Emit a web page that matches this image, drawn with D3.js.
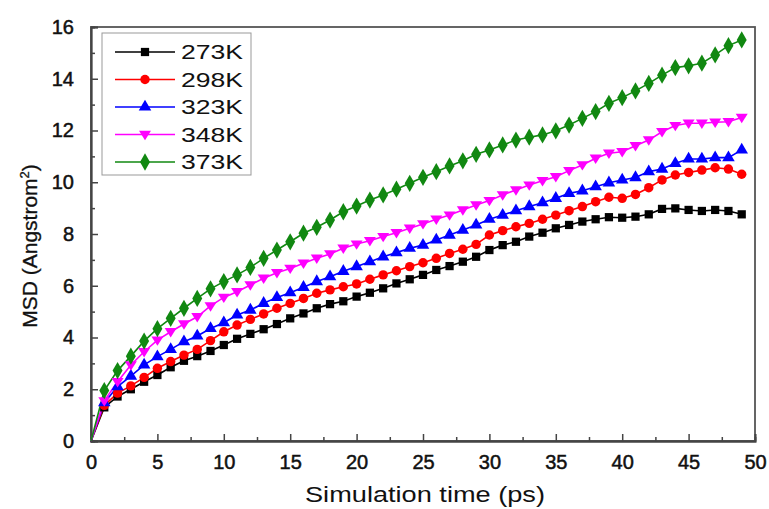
<!DOCTYPE html>
<html><head><meta charset="utf-8">
<script src="https://cdn.jsdelivr.net/npm/d3@7"></script>
<style>body{margin:0;background:#fff}svg{display:block}text{font-family:"Liberation Sans",Arial,sans-serif}</style>
</head><body><svg id="c" width="769" height="509"></svg>
<script>
const times = d3.range(0, 50);
const seriesNames = ["273K","298K","323K","348K","373K"];
const seriesColors = ["#000000","#ff0000","#0000ff","#ff00ff","#118811"];
const seriesSymbols = ["square","circle","triangle","triangleDown","diamond"];
const xTicks = [0,5,10,15,20,25,30,35,40,45,50];
const yTicks = [0,2,4,6,8,10,12,14,16];

const msd273 = [0,1.30,1.72,2.00,2.29,2.55,2.85,3.10,3.28,3.48,3.71,3.95,4.14,4.32,4.52,4.74,4.93,5.13,5.29,5.40,5.58,5.73,5.90,6.09,6.25,6.42,6.61,6.76,6.93,7.12,7.38,7.57,7.70,7.90,8.05,8.22,8.35,8.48,8.57,8.65,8.63,8.67,8.76,8.97,8.99,8.93,8.89,8.93,8.89,8.76];
const msd298 = [0,1.38,1.85,2.13,2.46,2.81,3.07,3.32,3.54,3.88,4.22,4.48,4.70,4.91,5.13,5.32,5.51,5.71,5.84,5.96,6.07,6.25,6.42,6.58,6.74,6.89,7.06,7.25,7.41,7.60,7.96,8.13,8.28,8.41,8.57,8.73,8.90,9.06,9.25,9.42,9.38,9.53,9.79,10.09,10.28,10.38,10.47,10.56,10.51,10.31];
const msd323 = [0,1.48,2.10,2.51,2.94,3.26,3.54,3.84,4.06,4.35,4.57,4.87,5.06,5.32,5.55,5.73,5.94,6.16,6.35,6.56,6.74,6.93,7.12,7.28,7.45,7.57,7.77,7.96,8.15,8.35,8.57,8.73,8.90,9.06,9.21,9.38,9.57,9.67,9.83,9.98,10.09,10.18,10.41,10.51,10.73,10.90,10.90,10.95,10.95,11.25];
const msd348 = [0,1.55,2.29,2.94,3.45,3.90,4.22,4.52,4.80,5.22,5.55,5.77,6.03,6.29,6.50,6.67,6.87,7.06,7.23,7.45,7.61,7.74,7.90,8.05,8.22,8.39,8.57,8.73,8.93,9.12,9.29,9.51,9.70,9.89,10.06,10.21,10.45,10.67,10.93,11.12,11.18,11.41,11.63,11.95,12.19,12.28,12.28,12.32,12.34,12.50];
const msd373 = [0,1.95,2.72,3.28,3.86,4.34,4.74,5.13,5.51,5.88,6.16,6.42,6.71,7.06,7.38,7.70,8.03,8.26,8.54,8.86,9.08,9.31,9.51,9.73,9.96,10.19,10.41,10.63,10.83,11.08,11.25,11.44,11.63,11.74,11.83,11.99,12.21,12.47,12.73,13.05,13.27,13.53,13.82,14.14,14.43,14.50,14.60,14.92,15.28,15.50];
const allSeries = [msd273, msd298, msd323, msd348, msd373];

const svg = d3.select("#c");
const L = 91, R = 755, T = 27, B = 441;
const x = d3.scaleLinear().domain([0,50]).range([L,R]);
const y = d3.scaleLinear().domain([0,16]).range([B,T]);

// frame
svg.append("rect").attr("x",L).attr("y",T).attr("width",R-L).attr("height",B-T)
  .attr("fill","none").attr("stroke","#555").attr("stroke-width",1.8);

// axes
const xAxis = svg.append("g").attr("transform",`translate(0,${B})`)
  .call(d3.axisBottom(x).tickValues(xTicks).tickSize(-7).tickPadding(14).tickFormat(d3.format("d")));
const xMinor = svg.append("g").attr("transform",`translate(0,${B})`)
  .call(d3.axisBottom(x).tickValues(d3.range(2.5,50,5)).tickSize(-4).tickFormat(""));
const yAxis = svg.append("g").attr("transform",`translate(${L},0)`)
  .call(d3.axisLeft(y).tickValues(yTicks).tickSize(-7).tickPadding(17).tickFormat(d3.format("d")));
const yMinor = svg.append("g").attr("transform",`translate(${L},0)`)
  .call(d3.axisLeft(y).tickValues(d3.range(1,16,2)).tickSize(-4).tickFormat(""));
[xAxis,xMinor,yAxis,yMinor].forEach(g=>{
  g.select(".domain").attr("stroke","#444").attr("stroke-width",1.8);
  g.selectAll(".tick line").attr("stroke","#444").attr("stroke-width",1.5);
  g.selectAll("text").attr("font-size",20).attr("fill","#111")
    .attr("stroke","#111").attr("stroke-width",0.5);
});

// titles
svg.append("text").attr("x",(L+R)/2+2).attr("y",502).attr("text-anchor","middle")
  .attr("font-size",22).attr("fill","#111")
  .attr("textLength",240).attr("lengthAdjust","spacingAndGlyphs")
  .text("Simulation time (ps)");
const yt = svg.append("text").attr("transform",`translate(37,246) rotate(-90)`)
  .attr("text-anchor","middle").attr("font-size",21).attr("fill","#111")
  .attr("stroke","#111").attr("stroke-width",0.3);
yt.append("tspan").text("MSD (Angstrom");
yt.append("tspan").attr("font-size",13).attr("dy",-8).text("2");
yt.append("tspan").attr("dy",8).text(")");

function sym(name){
  switch(name){
    case "square": return d3.symbol(d3.symbolSquare, 68)();
    case "circle": return d3.symbol(d3.symbolCircle, 70)();
    case "triangle": return d3.symbol(d3.symbolTriangle, 68)();
    case "diamond": return d3.symbol(d3.symbolDiamond, 86)();
    case "triangleDown": return "M0,5.7L-6,-3.7L6,-3.7Z";
  }
}

const line = d3.line().x((d,i)=>x(times[i])).y(d=>y(d));
const plot = svg.append("g");
allSeries.forEach((vals,si)=>{
  plot.append("path").datum(vals).attr("d",line).attr("fill","none")
    .attr("stroke",seriesColors[si]).attr("stroke-width",1.6);
});
allSeries.forEach((vals,si)=>{
  plot.selectAll(null).data(vals.slice(1)).enter().append("path")
    .attr("d",sym(seriesSymbols[si]))
    .attr("transform",(d,i)=>`translate(${x(times[i+1])},${y(d)})`)
    .attr("fill",seriesColors[si]);
});

// legend
const lg = svg.append("g");
lg.append("rect").attr("x",102).attr("y",33).attr("width",149).attr("height",142)
  .attr("fill","#fff").attr("stroke","#999").attr("stroke-width",1);
seriesNames.forEach((n,i)=>{
  const yy = 52 + i*27.5;
  lg.append("line").attr("x1",115).attr("x2",175).attr("y1",yy).attr("y2",yy)
    .attr("stroke",seriesColors[i]).attr("stroke-width",1.6);
  lg.append("path").attr("d",sym(seriesSymbols[i])).attr("transform",`translate(145,${yy})`)
    .attr("fill",seriesColors[i]);
  lg.append("text").attr("x",181).attr("y",yy).attr("dy","0.36em")
    .attr("font-size",20).attr("fill","#111")
    .attr("textLength",62).attr("lengthAdjust","spacingAndGlyphs").text(n);
});
</script></body></html>
